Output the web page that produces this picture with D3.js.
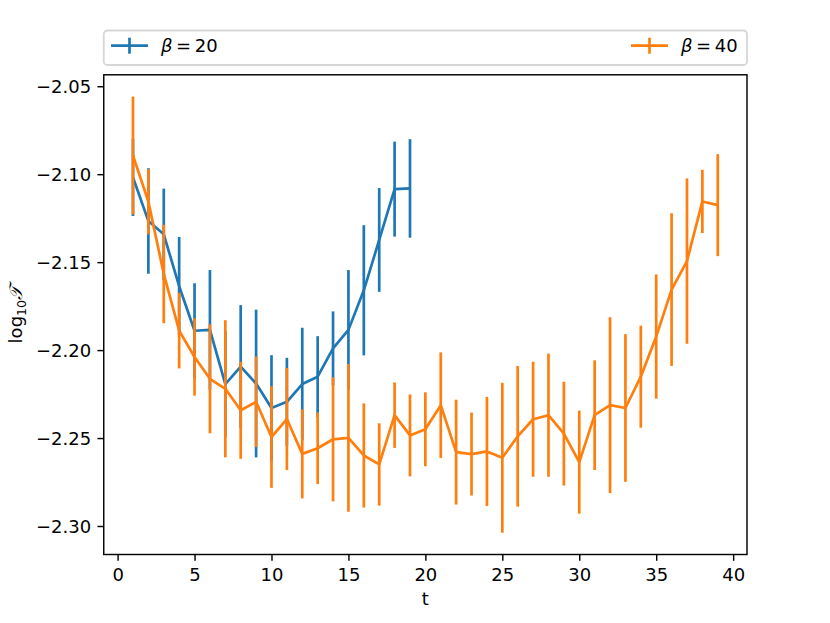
<!DOCTYPE html>
<html lang="en">
<head>
    <meta charset="UTF-8">
    <title>log10 T vs t</title>
    <script src="https://d3js.org/d3.v7.min.js"></script>
    <style>
        body { margin: 0; background: #fff; }
        text { font-family: "DejaVu Sans", sans-serif; fill: #000; }
    </style>
</head>
<body>
    <script>
        // data
        const tBlue = [1, 2, 3, 4, 5, 6, 7, 8, 9, 10, 11, 12, 13, 14, 15, 16, 17, 18, 19];
        const meanBlue = [-2.1018, -2.1266, -2.1342, -2.1637, -2.1890, -2.1885, -2.2193, -2.2094, -2.2190, -2.2329,
            -2.2294, -2.2193, -2.2151, -2.1990, -2.1885, -2.1660, -2.1374, -2.1085, -2.1081];
        const errBlue = [0.022, 0.030, 0.026, 0.028, 0.027, 0.034, 0.030, 0.035, 0.042, 0.030,
            0.025, 0.032, 0.023, 0.021, 0.034, 0.037, 0.0295, 0.027, 0.028];

        const tOrange = d3.range(1, 40);
        const meanOrange = [-2.0894, -2.1156, -2.1567, -2.1889, -2.2039, -2.2163, -2.2220, -2.2342, -2.2294, -2.2494,
            -2.2392, -2.2590, -2.2558, -2.2507, -2.2499, -2.2599, -2.2650, -2.2370, -2.2485, -2.2450,
            -2.2313, -2.2580, -2.2591, -2.2576, -2.2612, -2.2490, -2.2393, -2.2370, -2.2475, -2.2637,
            -2.2370, -2.2313, -2.2329, -2.2151, -2.1923, -2.1656, -2.1494, -2.1155, -2.1176];
        const errOrange = [0.0335, 0.0186, 0.028, 0.0215, 0.022, 0.031, 0.039, 0.0276, 0.0257, 0.0289,
            0.029, 0.0253, 0.0203, 0.0353, 0.042, 0.0296, 0.0234, 0.0186, 0.0233, 0.021,
            0.030, 0.0298, 0.0236, 0.031, 0.0426, 0.040, 0.0327, 0.035, 0.0295, 0.0293,
            0.0312, 0.050, 0.042, 0.029, 0.0353, 0.0434, 0.047, 0.018, 0.029];

        const xTicks = [0, 5, 10, 15, 20, 25, 30, 35, 40];
        const yTicks = [-2.30, -2.25, -2.20, -2.15, -2.10, -2.05];

        const series = [
            { name: "20", color: "#1f77b4", t: tBlue, m: meanBlue, e: errBlue },
            { name: "40", color: "#ff7f0e", t: tOrange, m: meanOrange, e: errOrange }
        ];

        // figure layout (matplotlib default subplot params)
        const W = 830, H = 623;
        const mLeft = 103.75, mRight = 747, mTop = 74.8, mBottom = 554.5;
        const lw = 2.7;

        const svg = d3.select("body").append("svg")
            .attr("width", W)
            .attr("height", H);

        // domains with 5% margins like matplotlib
        const lo = d3.min(series, s => d3.min(s.m, (v, i) => v - s.e[i]));
        const hi = d3.max(series, s => d3.max(s.m, (v, i) => v + s.e[i]));
        const padY = (hi - lo) * 0.05;
        const padX = (39 - 1) * 0.05;

        const x = d3.scaleLinear().domain([1 - padX, 39 + padX]).range([mLeft, mRight]);
        const y = d3.scaleLinear().domain([lo - padY, hi + padY]).range([mBottom, mTop]);

        const plot = svg.append("g");

        series.forEach(s => {
            const pts = s.t.map((t, i) => ({ t: t, m: s.m[i], e: s.e[i] }));
            plot.append("g").selectAll("line")
                .data(pts)
                .enter().append("line")
                .attr("x1", d => x(d.t))
                .attr("x2", d => x(d.t))
                .attr("y1", d => y(d.m - d.e))
                .attr("y2", d => y(d.m + d.e))
                .attr("stroke", s.color)
                .attr("stroke-width", lw);

            const line = d3.line().x(d => x(d.t)).y(d => y(d.m));
            plot.append("path")
                .datum(pts)
                .attr("d", line)
                .attr("fill", "none")
                .attr("stroke", s.color)
                .attr("stroke-width", lw)
                .attr("stroke-linejoin", "round");
        });

        // axes
        const xAxis = svg.append("g")
            .attr("transform", `translate(0,${mBottom})`)
            .call(d3.axisBottom(x).tickValues(xTicks).tickSize(6.3).tickPadding(6.3).tickSizeOuter(0));
        const yAxis = svg.append("g")
            .attr("transform", `translate(${mLeft},0)`)
            .call(d3.axisLeft(y).tickValues(yTicks).tickSize(6.3).tickPadding(6.3).tickSizeOuter(0)
                .tickFormat(d => d3.format(".2f")(d).replace("-", "\u2212")));

        [xAxis, yAxis].forEach(a => {
            a.select(".domain").remove();
            a.selectAll(".tick line").attr("stroke", "#000").attr("stroke-width", 1.44);
            a.selectAll(".tick text")
                .attr("font-family", "DejaVu Sans")
                .attr("font-size", 18)
                .attr("fill", "#000");
        });
        xAxis.selectAll(".tick text").attr("dy", "0.78em");
        yAxis.selectAll(".tick text").attr("dy", "0.36em");

        svg.append("rect")
            .attr("x", mLeft).attr("y", mTop)
            .attr("width", mRight - mLeft).attr("height", mBottom - mTop)
            .attr("fill", "none")
            .attr("stroke", "#000")
            .attr("stroke-width", 1.44);

        // axis labels
        svg.append("text")
            .attr("x", (mLeft + mRight) / 2)
            .attr("y", 605)
            .attr("text-anchor", "middle")
            .attr("font-size", 18)
            .text("t");

        const yl = svg.append("text")
            .attr("transform", `translate(22,${(mTop + mBottom) / 2}) rotate(-90)`)
            .attr("text-anchor", "middle")
            .attr("font-size", 18);
        yl.append("tspan").text("log");
        yl.append("tspan").attr("font-size", 12.6).attr("dy", 4).text("10");
        yl.append("tspan").attr("dy", -4).attr("font-family", "DejaVu Serif")
            .attr("font-style", "italic").text("\u{1D4AF}");

        // legend
        const lg = svg.append("g");
        lg.append("rect")
            .attr("x", mLeft).attr("y", 30.5)
            .attr("width", mRight - mLeft).attr("height", 34.5)
            .attr("rx", 3.6)
            .attr("fill", "#fff").attr("fill-opacity", 0.8)
            .attr("stroke", "#cccccc").attr("stroke-opacity", 0.8)
            .attr("stroke-width", 1.8);

        const entryX = [111, 631];
        series.forEach((s, i) => {
            const hx = entryX[i], hy = 45.7;
            lg.append("line")
                .attr("x1", hx).attr("x2", hx + 37)
                .attr("y1", hy).attr("y2", hy)
                .attr("stroke", s.color).attr("stroke-width", lw);
            lg.append("line")
                .attr("x1", hx + 18.5).attr("x2", hx + 18.5)
                .attr("y1", hy - 8).attr("y2", hy + 8)
                .attr("stroke", s.color).attr("stroke-width", lw);
            const t = lg.append("text")
                .attr("x", hx + 50)
                .attr("y", 52)
                .attr("font-size", 18);
            t.append("tspan").attr("font-style", "italic").text("\u03B2");
            t.append("tspan").text("\u2009=\u2009" + s.name);
        });
    </script>
</body>
</html>
